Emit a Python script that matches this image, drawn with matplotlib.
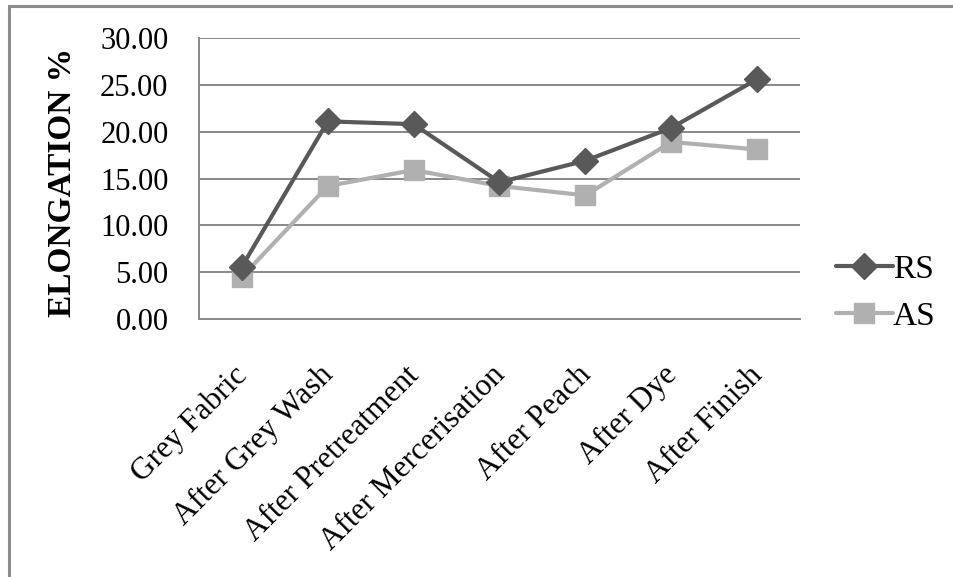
#!/usr/bin/env python
# -*- coding: utf-8 -*-
# Elongation (%) of RS / AS fabric along the processing stages
import matplotlib
matplotlib.use("Agg")
from matplotlib import pyplot as plt
from matplotlib.patches import Rectangle
from matplotlib.transforms import ScaledTranslation

#------------------------------- DATA -------------------------------
stages = ["Grey Fabric", "After Grey Wash", "After Pretreatment",
          "After Mercerisation", "After Peach", "After Dye", "After Finish"]
rs = [5.6, 21.1, 20.8, 14.6, 16.9, 20.4, 25.6]
as_ = [4.5, 14.2, 15.9, 14.2, 13.2, 18.9, 18.1]
yticks = [0, 5, 10, 15, 20, 25, 30]

#------------------------------- PLOT -------------------------------
plt.rcParams['font.family'] = ['Liberation Serif', 'DejaVu Serif']

W, H = 954, 577
fig = plt.figure(figsize=(W / 100, H / 100), dpi=100)
ax = fig.add_axes([199 / W, 1 - 319 / H, (800 - 199) / W, (319 - 38) / H])

# outer chart frame (only top/left edges are visible)
fig.patches.append(Rectangle((9 / W, -0.1), 1.2, 1 - 6 / H + 0.1,
                             transform=fig.transFigure, fill=False,
                             edgecolor='#8c8c8c', linewidth=2.2))

x = range(len(stages))
ax.plot(x, rs, color='#595959', lw=3.0, marker='D', ms=13, label='RS',
        solid_capstyle='round', zorder=4)
ax.plot(x, as_, color='#b0b0b0', lw=3.0, marker='s', ms=14, label='AS',
        solid_capstyle='round', zorder=3)

ax.set_xlim(-0.5, len(stages) - 0.5)
ax.set_ylim(0, 30)
ax.set_yticks(yticks)
ax.set_yticklabels(["{:.2f}".format(v) for v in yticks], fontsize=22)
ax.set_xticks(list(x))
ax.set_xticklabels(stages, rotation=45, ha='right', rotation_mode='anchor',
                   fontsize=22.5)
ax.tick_params(axis='y', length=0, pad=22)
ax.tick_params(axis='x', length=0, pad=30)
# nudge the slanted category labels a little to the left
shift = ScaledTranslation(-9 / 100, 0, fig.dpi_scale_trans)
for lab in ax.get_xticklabels():
    lab.set_transform(lab.get_transform() + shift)

ax.grid(axis='y', color='#888888', lw=1.4)
ax.set_axisbelow(True)
for s in ['top', 'right']:
    ax.spines[s].set_visible(False)
ax.spines['left'].set_color('#888888')
ax.spines['left'].set_linewidth(1.4)
ax.spines['bottom'].set_color('#888888')
ax.spines['bottom'].set_linewidth(1.4)

fig.text(63 / W, 1 - 182 / H, "ELONGATION %", rotation=90, fontsize=24,
         fontweight='bold', ha='center', va='center')

fig.legend(handles=ax.get_lines(), loc='center left',
           bbox_to_anchor=(836 / W, 1 - 293 / H), frameon=False,
           fontsize=24, handlelength=1.7, handletextpad=0.0,
           labelspacing=0.5, borderaxespad=0, borderpad=0)

fig.savefig("out.png", dpi=100)
